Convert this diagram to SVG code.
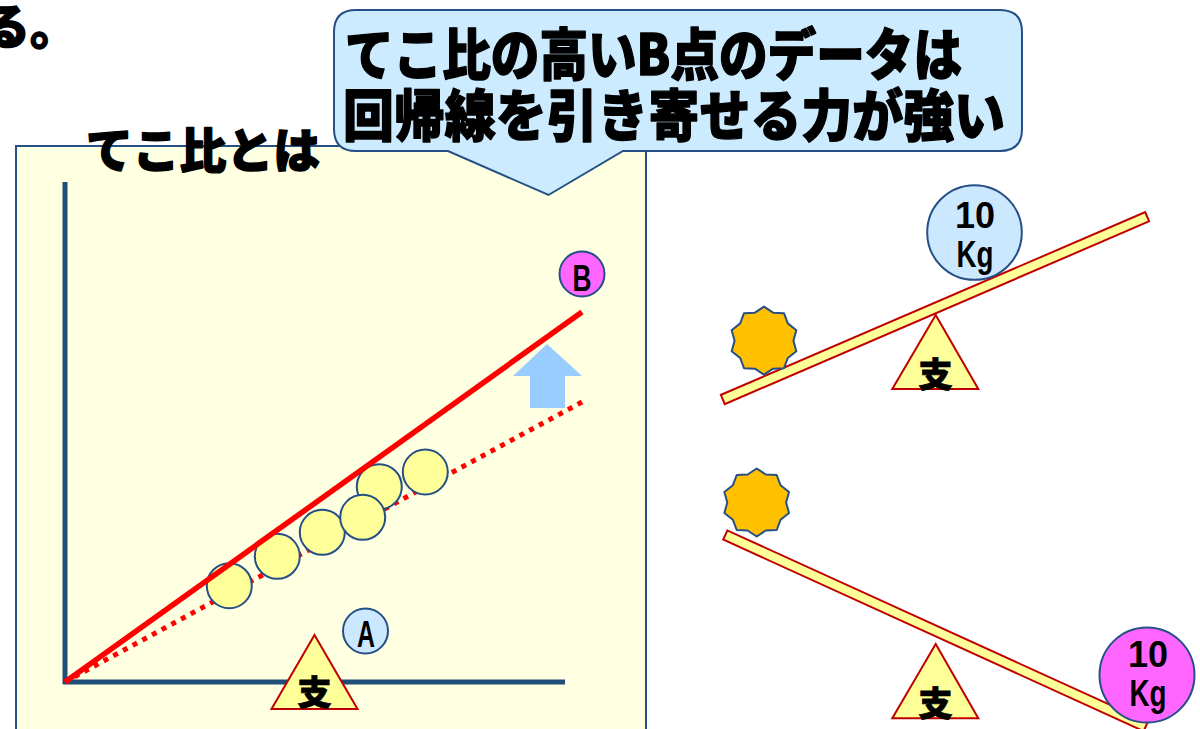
<svg xmlns="http://www.w3.org/2000/svg" width="1200" height="729" viewBox="0 0 1200 729">
  <style>
    .jp { font-family: "Noto Sans CJK JP", "Noto Sans CJK SC", sans-serif; font-weight: 900; fill: #000; stroke: #000; stroke-width: 1.4; stroke-linejoin: round; }
    .num { font-family: "Liberation Sans", "Noto Sans", sans-serif; font-weight: bold; fill: #000; text-anchor: middle; }
    .pt { fill: #FFFF99; stroke: #264F86; stroke-width: 2; }
    .plank { fill: #FFFF99; stroke: #C00000; stroke-width: 2; }
    .fulcrum { fill: #FFFF99; stroke: #C00000; stroke-width: 2; }
    .star { fill: #FFC000; stroke: #264F86; stroke-width: 2; stroke-linejoin: round; }
    .sup { font-family: "Noto Sans CJK JP", "Noto Sans CJK SC", sans-serif; font-weight: 900; font-size: 34px; text-anchor: middle; fill: #000; stroke: #000; stroke-width: 0.8; }
  </style>
  <defs>
    <polygon id="burst" points="0,-34 9.1,-28.0 19.99,-27.51 23.8,-17.3 32.34,-10.51 29.4,0 32.34,10.51 23.8,17.3 19.99,27.51 9.1,28.0 0,34 -9.1,28.0 -19.99,27.51 -23.8,17.3 -32.34,10.51 -29.4,0 -32.34,-10.51 -23.8,-17.3 -19.99,-27.51 -9.1,-28.0"/>
  </defs>

  <rect width="1200" height="729" fill="#FFFFFF"/>

  <!-- tail of the preceding sentence -->
  <text class="jp" x="-18" y="44" font-size="48">る。</text>

  <!-- chart panel -->
  <g id="panel">
    <rect x="16" y="146" width="630" height="600" fill="#FFFFE1" stroke="#264F86" stroke-width="2"/>
    <text class="jp" x="86" y="168" font-size="48" textLength="234" lengthAdjust="spacingAndGlyphs">てこ比とは</text>
  </g>

  <!-- axes -->
  <g id="axes" stroke="#1F4E79" stroke-width="5" fill="none">
    <line x1="65" y1="182" x2="65" y2="684"/>
    <line x1="63" y1="682" x2="565" y2="682"/>
  </g>

  <!-- regression lines and shift arrow -->
  <g id="connectors">
    <line x1="65" y1="682" x2="582" y2="402" stroke="#FF0000" stroke-width="5" stroke-dasharray="5 6"/>
    <polygon points="547,344 582,376 565,376 565,408 530,408 530,376 513,376" fill="#99CCFF"/>
  </g>

  <!-- data points -->
  <g id="points">
    <circle class="pt" cx="229.3" cy="585.7" r="22.5"/>
    <circle class="pt" cx="277.3" cy="556.3" r="22.5"/>
    <circle class="pt" cx="322.3" cy="532.3" r="22.5"/>
    <circle class="pt" cx="379.3" cy="486.7" r="22.5"/>
    <circle class="pt" cx="362.7" cy="517.3" r="22.5"/>
    <circle class="pt" cx="425.3" cy="472" r="22.5"/>
  </g>

  <g id="fit-line">
    <line x1="65" y1="682" x2="582" y2="312" stroke="#FF0000" stroke-width="5.5"/>
  </g>

  <g id="point-b">
    <circle cx="582" cy="274" r="22.5" fill="#FF66FF" stroke="#264F86" stroke-width="2"/>
    <text class="num" x="582" y="291" font-size="36" textLength="19" lengthAdjust="spacingAndGlyphs">B</text>
  </g>

  <g id="point-a">
    <circle cx="365.5" cy="631" r="22.5" fill="#CCE8FF" stroke="#264F86" stroke-width="2"/>
    <text class="num" x="366" y="647" font-size="37" textLength="18" lengthAdjust="spacingAndGlyphs">A</text>
  </g>

  <g id="fulcrum-chart">
    <polygon class="fulcrum" points="314.5,635 271.5,709 357.5,709"/>
    <text class="sup" x="314.5" y="705">支</text>
  </g>

  <!-- speech bubble -->
  <g id="callout">
    <path d="M356 10 H1000 Q1022 10 1022 32 V129 Q1022 151 1000 151 H623 L548.5 195 L448 151 H356 Q334 151 334 129 V32 Q334 10 356 10 Z" fill="#CCEBFF" stroke="#264F86" stroke-width="2"/>
    <text class="jp" x="345" y="75" font-size="56" textLength="617" lengthAdjust="spacingAndGlyphs">てこ比の高いB点のデータは</text>
    <text class="jp" x="343" y="136" font-size="56" textLength="662" lengthAdjust="spacingAndGlyphs">回帰線を引き寄せる力が強い</text>
  </g>

  <!-- upper seesaw: heavy weight near the fulcrum -->
  <g id="seesaw-top">
    <rect class="plank" x="-231" y="-5" width="462" height="10" transform="translate(935,308.1) rotate(-23.3)"/>
    <polygon class="fulcrum" points="935.7,315 892.3,389 978.3,389"/>
    <text class="sup" x="935.5" y="387">支</text>
    <use href="#burst" class="star" transform="translate(764,340.7)"/>
    <circle cx="974.5" cy="232.5" r="47.3" fill="#CCE8FF" stroke="#264F86" stroke-width="2"/>
    <text class="num" x="975" y="227.5" font-size="36">10</text>
    <text class="num" x="975" y="266.5" font-size="36" textLength="37" lengthAdjust="spacingAndGlyphs">Kg</text>
  </g>

  <!-- lower seesaw: heavy weight at the far end -->
  <g id="seesaw-bottom">
    <rect class="plank" x="-231" y="-5" width="462" height="10" transform="translate(935.5,630.8) rotate(24.5)"/>
    <polygon class="fulcrum" points="935.7,644 892.3,718.3 978.3,718.3"/>
    <text class="sup" x="935.5" y="716">支</text>
    <use href="#burst" class="star" transform="translate(756.7,502.5)"/>
    <circle cx="1147" cy="675" r="47.5" fill="#FF66FF" stroke="#264F86" stroke-width="2"/>
    <text class="num" x="1148" y="667" font-size="36">10</text>
    <text class="num" x="1148" y="706" font-size="36" textLength="37" lengthAdjust="spacingAndGlyphs">Kg</text>
  </g>
</svg>
